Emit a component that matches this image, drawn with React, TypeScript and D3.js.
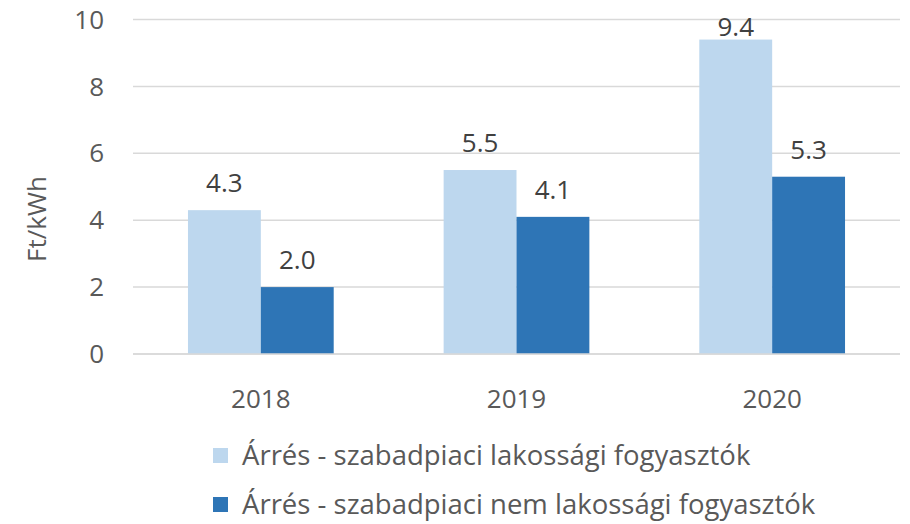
import React from "react";
import * as d3 from "d3";

const categories = ["2018", "2019", "2020"];
const seriesNames = [
  "Árrés - szabadpiaci lakossági fogyasztók",
  "Árrés - szabadpiaci nem lakossági fogyasztók",
];
const seriesLakossagi = [4.3, 5.5, 9.4];
const seriesNemLakossagi = [2.0, 4.1, 5.3];
const yTicks = [0, 2, 4, 6, 8, 10];
const colors = ["#BDD7EE", "#2E75B6"];

const W = 910;
const H = 524;
const FONT = "'Open Sans', 'Noto Sans', sans-serif";
const FS = 26;

export default function App() {
  const left = 133, right = 900, top = 19.5, bottom = 354;
  const y = d3.scaleLinear().domain([0, 10]).range([bottom, top]);
  const x = d3.scaleBand().domain(categories).range([left, right]).paddingInner(0.43).paddingOuter(0.215);
  const series = [seriesLakossagi, seriesNemLakossagi];
  const xs = d3.scaleBand().domain(["0", "1"]).range([0, x.bandwidth()]);
  return (
    <svg width={W} height={H} style={{ position: "absolute", left: 0, top: 0 }} fontFamily={FONT}>
      <rect width={W} height={H} fill="#fff" />
      {yTicks.map((t) => (
        <g key={t}>
          <line x1={left} x2={right} y1={y(t)} y2={y(t)} stroke="#D9D9D9" strokeWidth={1.5} />
          <text x={104} y={y(t)} dy="0.35em" textAnchor="end" fontSize={FS} fill="#595959">{t}</text>
        </g>
      ))}
      {series.map((vals, si) =>
        vals.map((v, ci) => {
          const bx = (x(categories[ci]) as number) + (xs(String(si)) as number);
          const by = y(v);
          const ly = Math.max(by - 18, 36);
          return (
            <g key={si + "-" + ci}>
              <rect x={bx} y={by} width={xs.bandwidth()} height={bottom - by} fill={colors[si]} />
              <text x={bx + xs.bandwidth() / 2} y={ly} textAnchor="middle" fontSize={FS} fill="#404040">{v.toFixed(1)}</text>
            </g>
          );
        })
      )}
      <line x1={left} x2={right} y1={bottom} y2={bottom} stroke="#D9D9D9" strokeWidth={1.5} />
      {categories.map((c) => (
        <text key={c} x={(x(c) as number) + x.bandwidth() / 2} y={408} textAnchor="middle" fontSize={FS} fill="#595959">{c}</text>
      ))}
      <text transform={`translate(46,219) rotate(-90)`} textAnchor="middle" fontSize={FS} fill="#595959">Ft/kWh</text>
      {seriesNames.map((n, i) => (
        <g key={n}>
          <rect x={213} y={448 + i * 49} width={15} height={15} fill={colors[i]} />
          <text x={242} y={465 + i * 49} fontSize={27.5} fill="#595959">{n}</text>
        </g>
      ))}
    </svg>
  );
}
